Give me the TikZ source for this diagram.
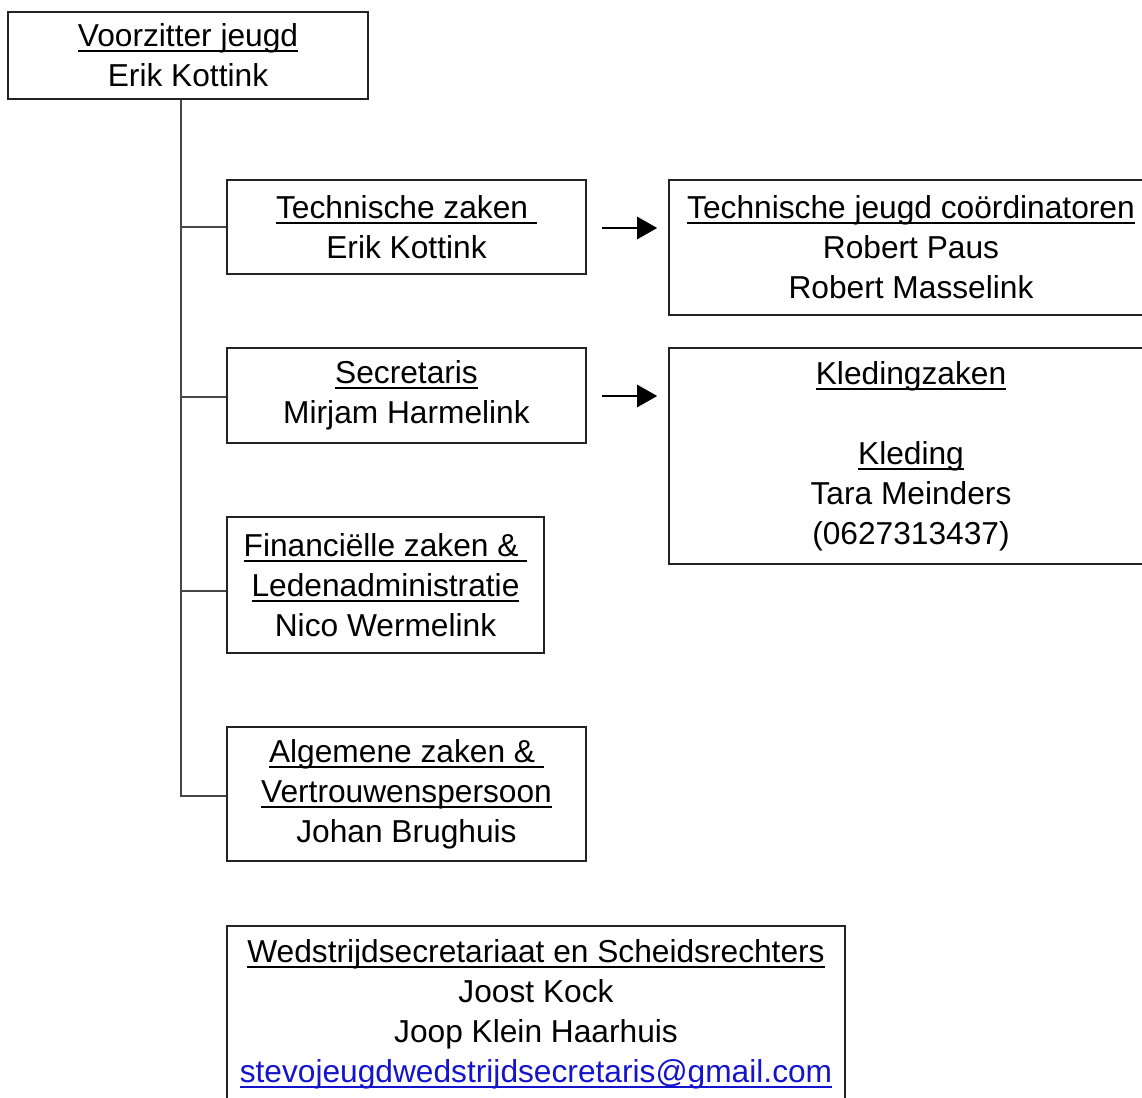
\documentclass[tikz,border=0pt]{standalone}
\usepackage{fontspec}
\setmainfont{Liberation Sans}
\usetikzlibrary{arrows.meta}
\definecolor{linkblue}{RGB}{20,20,205}
\definecolor{boxline}{RGB}{35,35,35}
\definecolor{connline}{RGB}{70,70,70}
\newcommand\ulx[1]{\leavevmode\setbox0=\hbox{#1}\rlap{\vrule height -3.5pt depth 5.3pt width \wd0}\box0}
\tikzset{
  orgbox/.style={draw=boxline, line width=1.6pt, inner sep=0pt, align=center,
    font=\fontsize{31.7}{40}\selectfont, text=black},
  conn/.style={draw=connline, line width=1.3pt},
  arr/.style={draw=black, line width=2.5pt, -{Triangle[length=20pt,width=22pt]}}
}
\begin{document}
\begin{tikzpicture}[x=1pt,y=-1pt]
\useasboundingbox (0,0) rectangle (1142,1097);
\node[orgbox, minimum width=360pt, minimum height=87pt] (vz) at (188,55.5)
  {\ulx{Voorzitter jeugd}\\Erik Kottink};
\node[orgbox, minimum width=359pt, minimum height=94pt] (tz) at (406.5,227)
  {\ulx{Technische zaken\ }\\Erik Kottink};
\node[orgbox, minimum width=484pt, minimum height=135pt] (tjc) at (911,247.5)
  {\ulx{Technische jeugd co\"ordinatoren}\\Robert Paus\\Robert Masselink};
\node[orgbox, minimum width=359pt, minimum height=95pt] (sec) at (406.5,395.5)
  {\ulx{Secretaris}\\Mirjam Harmelink};
\node[orgbox, minimum width=484pt, minimum height=216pt] (kl) at (911,456)
  {\ulx{Kledingzaken}\\\mbox{}\\\ulx{Kleding}\\Tara Meinders\\(0627313437)};
\node[orgbox, minimum width=317pt, minimum height=136pt] (fin) at (385.5,585)
  {\ulx{Financi\"elle zaken \&\ }\\\ulx{Ledenadministratie}\\Nico Wermelink};
\node[orgbox, minimum width=359pt, minimum height=134pt] (alg) at (406.5,794)
  {\ulx{Algemene zaken \&\ }\\\ulx{Vertrouwenspersoon}\\Johan Brughuis};
\node[orgbox, minimum width=618pt, minimum height=177pt] (wed) at (536,1014.5)
  {\ulx{Wedstrijdsecretariaat en Scheidsrechters}\\Joost Kock\\Joop Klein Haarhuis\\\textcolor{linkblue}{\ulx{stevojeugdwedstrijdsecretaris@gmail.com}}};
\coordinate (trunktop) at ([xshift=-7pt]vz.south);
\draw[conn] (trunktop) |- ([yshift=-2pt]alg.west);
\draw[conn] (tz.west -| trunktop) -- (tz.west);
\draw[conn] ([yshift=-1.5pt]sec.west -| trunktop) -- ([yshift=-1.5pt]sec.west);
\draw[conn] ([yshift=-6pt]fin.west -| trunktop) -- ([yshift=-6pt]fin.west);
\coordinate (a1s) at ([xshift=15pt,yshift=-1pt]tz.east);
\coordinate (a2s) at ([xshift=15pt,yshift=-0.5pt]sec.east);
\draw[arr] (a1s) -- ([xshift=-11pt]a1s -| tjc.west);
\draw[arr] (a2s) -- ([xshift=-11pt]a2s -| kl.west);
\end{tikzpicture}
\end{document}
